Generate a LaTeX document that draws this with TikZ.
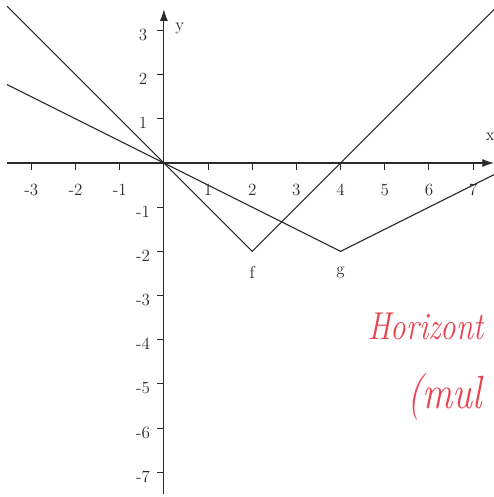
\documentclass[tikz,border=0pt]{standalone}
\usetikzlibrary{arrows.meta,positioning}
\definecolor{inkgray}{HTML}{2A2A2A}
\definecolor{penred}{HTML}{E8434F}

\begin{document}
\begin{tikzpicture}[x=1cm,y=1cm,
    axis/.style={inkgray,line width=0.7pt,-{Latex[length=2.6mm,width=1.8mm]}},
    graph/.style={inkgray,line width=0.75pt},
    ticklabel/.style={font=\fontsize{11}{12}\selectfont,inkgray},
    hand/.style={penred,font=\fontsize{25}{28}\selectfont\itshape,anchor=base west,
      inner sep=0pt,xscale=0.74}]
  \useasboundingbox (-3.71,-7.56) rectangle (7.47,3.69);
  \clip (-3.71,-7.56) rectangle (7.47,3.69);

  % axes
  \coordinate (xl) at (-3.55,0);
  \coordinate (xr) at (7.47,0);
  \coordinate (yb) at (0,-7.5);
  \coordinate (yt) at (0,3.48);
  \draw[axis] (xl) -- (xr);
  \draw[axis] (yb) -- (yt);
  \node[font=\fontsize{11}{12}\selectfont,inkgray] (xlab) at (7.39,0.59) {x};
  \node[font=\fontsize{11}{12}\selectfont,inkgray] (ylab) at (0.36,3.05) {y};

  % ticks and numbers
  \foreach \i in {-3,-2,-1,1,2,...,7} {
    \draw[inkgray,line width=0.6pt] (\i,0) -- (\i,-0.15);
    \node[ticklabel] (tx\i) at (\i,-0.6) {\i};
  }
  \foreach \j in {-7,-6,...,-1,1,2,3} {
    \draw[inkgray,line width=0.6pt] (0,\j) -- (-0.15,\j);
    \node[ticklabel] (ty\j) at (-0.47,\j-0.1) {\j};
  }

  % graphs
  \coordinate (o) at (0,0);
  \coordinate (fa) at (-3.55,3.55);
  \coordinate (fv) at (2,-2);
  \coordinate (fb) at (7.5,3.5);
  \coordinate (ga) at (-3.55,1.775);
  \coordinate (gv) at (4,-2);
  \coordinate (gb) at (7.5,-0.25);
  \draw[graph] (fa) -- (o) -- (fv) -- (fb);
  \draw[graph] (ga) -- (o) -- (gv) -- (gb);
  \node[ticklabel] (flab) at (2,-2.47) {f};
  \node[ticklabel] (glab) at (4,-2.47) {g};

  % handwritten note
  \node[hand,xscale=1.08] (note1) at (4.62,-3.99) {Horizont};
  \node[hand,font=\fontsize{30}{34}\selectfont\itshape,xscale=1.1] (note2) at (5.5,-5.55) {(mul};
\end{tikzpicture}
\end{document}
